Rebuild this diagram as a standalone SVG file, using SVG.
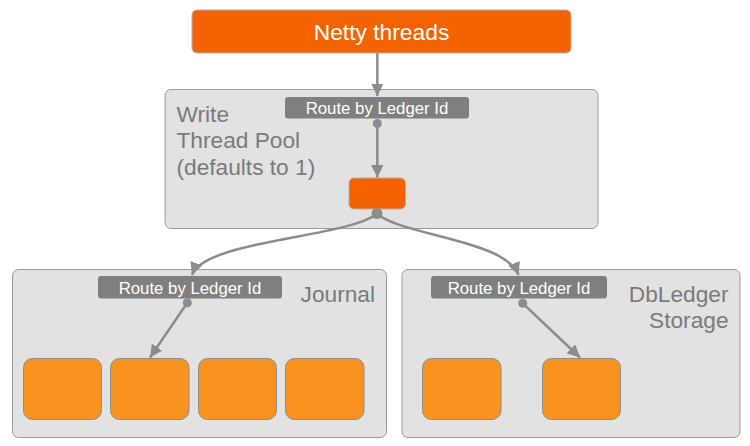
<svg xmlns="http://www.w3.org/2000/svg" width="750" height="446" viewBox="0 0 750 446">
<defs>
<marker id="ah" viewBox="0 0 10 10" refX="10" refY="5" markerWidth="5" markerHeight="5" markerUnits="strokeWidth" orient="auto">
<path d="M0,0 L10,5 L0,10 z" fill="#8c8c8c"/>
</marker>
<style>
text{font-family:"Liberation Sans",Arial,sans-serif}
.group{fill:#e2e2e2;stroke:#9a9a9a;stroke-width:1}
.hot{fill:#f56200;stroke:#b0b0b0;stroke-width:1}
.worker{fill:#f7931e;stroke:#8c8c8c;stroke-width:1}
.route{fill:#7f7f7f}
.rt{fill:#ffffff;font-size:16.8px;text-anchor:middle}
.lbl{fill:#7a7a7a;font-size:22.7px}
.conn{fill:none;stroke:#8c8c8c;stroke-width:2.5}
.dot{fill:#8c8c8c}
</style>
</defs>
<rect width="750" height="446" fill="#ffffff"/>
<g id="netty">
<rect class="hot" x="192" y="10" width="379" height="43" rx="5"/>
<text x="381.5" y="40" fill="#ffffff" font-size="22.8" text-anchor="middle">Netty threads</text>
</g>
<g id="write-pool">
<rect class="group" x="165" y="89.5" width="433" height="139" rx="6"/>
<text class="lbl" x="176.5" y="121.5">Write</text>
<text class="lbl" x="176.5" y="148.3">Thread Pool</text>
<text class="lbl" x="176.5" y="175">(defaults to 1)</text>
<rect class="route" x="285" y="97" width="184" height="21.5" rx="3"/>
<text class="rt" x="377" y="113.7">Route by Ledger Id</text>
<rect id="write-thread" class="hot" x="349" y="178" width="56.5" height="31" rx="5"/>
</g>
<g id="journal">
<rect class="group" x="12.5" y="269.5" width="374" height="168" rx="6"/>
<text class="lbl" x="375" y="301.7" text-anchor="end">Journal</text>
<rect class="route" x="98" y="276" width="184" height="22.5" rx="3"/>
<text class="rt" x="190" y="294">Route by Ledger Id</text>
<rect class="worker" x="23.5" y="358.5" width="78" height="61" rx="9"/>
<rect class="worker" x="110.5" y="358.5" width="78.5" height="61" rx="9"/>
<rect class="worker" x="198.5" y="358.5" width="78" height="61" rx="9"/>
<rect class="worker" x="285.5" y="358.5" width="78.5" height="61" rx="9"/>
</g>
<g id="dbledger">
<rect class="group" x="402" y="269.5" width="338" height="168" rx="6"/>
<text class="lbl" x="728.5" y="301.7" text-anchor="end">DbLedger</text>
<text class="lbl" x="728.5" y="328.3" text-anchor="end">Storage</text>
<rect class="route" x="431" y="276" width="176" height="22.5" rx="3"/>
<text class="rt" x="519" y="294">Route by Ledger Id</text>
<rect class="worker" x="422.5" y="358.5" width="78.5" height="61" rx="9"/>
<rect class="worker" x="542.5" y="358.5" width="78" height="61" rx="9"/>
</g>
<g id="connectors">
<path class="conn" d="M377.3,53 L377.3,96" marker-end="url(#ah)"/>
<path class="conn" d="M377.3,124 L377.3,177.5" marker-end="url(#ah)"/>
<path class="conn" d="M377,214 C345,238 205,240 192,275" marker-end="url(#ah)"/>
<path class="conn" d="M377,214 C405,236 505,240 518.5,275" marker-end="url(#ah)"/>
<path class="conn" d="M187.3,302.7 L150,357.5" marker-end="url(#ah)"/>
<path class="conn" d="M522.7,303.3 L580,357.5" marker-end="url(#ah)"/>
<circle class="dot" cx="377.3" cy="123.5" r="4.5"/>
<circle class="dot" cx="377" cy="213.5" r="5.5"/>
<circle class="dot" cx="187.3" cy="302.7" r="4.5"/>
<circle class="dot" cx="522.7" cy="303.3" r="4.5"/>
</g>
</svg>
